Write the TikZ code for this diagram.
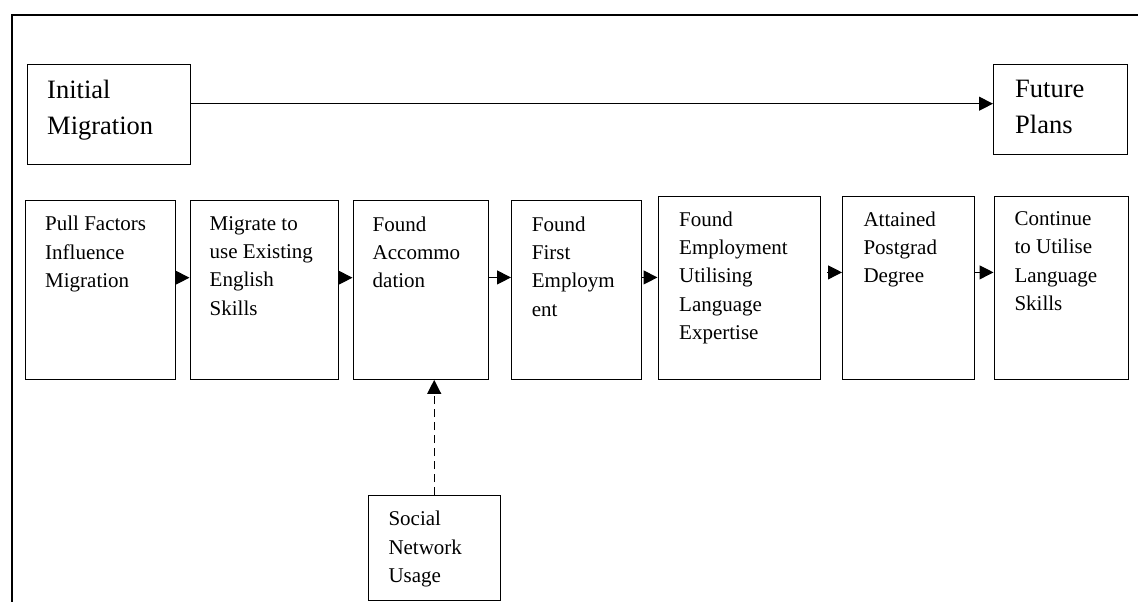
\documentclass[tikz,border=0pt]{standalone}
\usepackage{fontspec}
\setmainfont{Liberation Serif}
\usetikzlibrary{arrows.meta,positioning,calc}

\begin{document}
\begin{tikzpicture}[x=1pt,y=-1pt,
    stage/.style={draw, line width=1.4pt, anchor=north west, inner sep=0pt},
    txt/.style={anchor=north west, align=left, inner sep=0pt, execute at begin node=\strut, font=\fontsize{21}{28.3}\selectfont},
    bigtxt/.style={anchor=north west, align=left, inner sep=0pt, execute at begin node=\strut, font=\fontsize{26.5}{36}\selectfont},
    flow/.style={-{Triangle[length=14pt,width=14pt]}, line width=1.1pt}]
    \useasboundingbox (0,0) rectangle (1138,602);
    % frame
    \draw[line width=1.3pt] (12,602) -- (12,15) -- (1138,15);
    % start and end
    \node[stage, minimum width=163, minimum height=100] (init) at (27,64) {};
    \node[bigtxt] (inittxt) at ([shift={(20,16.3)}]init.north west) {Initial\\Migration};
    \node[stage, minimum width=134, minimum height=90] (fut) at (993,64) {};
    \node[bigtxt] (futtxt) at ([shift={(22,16)}]fut.north west) {Future\\Plans};
    \draw[flow] ([yshift=11pt]init.east) -- ([yshift=11pt]init.east -| fut.west);
    % stages
    \node[stage, minimum width=150, minimum height=179] (pull) at (25,199.5) {};
    \node[txt] (pulltxt) at ([shift={(20,16.7)}]pull.north west) {Pull Factors\\Influence\\Migration};
    \node[stage, minimum width=148.5, minimum height=179] (migr) at (189.5,199.5) {};
    \node[txt] (migrtxt) at ([shift={(20,16.7)}]migr.north west) {Migrate to\\use Existing\\English\\Skills};
    \node[stage, minimum width=135.5, minimum height=178.5] (accom) at (352.5,200) {};
    \node[txt] (accomtxt) at ([shift={(20,16.4)}]accom.north west) {Found\\Accommo\\dation};
    \node[stage, minimum width=130, minimum height=178.5] (job) at (511,200) {};
    \node[txt] (jobtxt) at ([shift={(20.7,16.4)}]job.north west) {Found\\First\\Employm\\ent};
    \node[stage, minimum width=162.5, minimum height=183] (lang) at (657.5,195.5) {};
    \node[txt] (langtxt) at ([shift={(21.5,15.9)}]lang.north west) {Found\\Employment\\Utilising\\Language\\Expertise};
    \node[stage, minimum width=132, minimum height=183] (degree) at (842,195.5) {};
    \node[txt] (degreetxt) at ([shift={(21.3,15.9)}]degree.north west) {Attained\\Postgrad\\Degree};
    \node[stage, minimum width=134, minimum height=183] (cont) at (993.5,195.5) {};
    \node[txt] (conttxt) at ([shift={(20.8,15.9)}]cont.north west) {Continue\\to Utilise\\Language\\Skills};
    % links
    \draw[flow] ([yshift=12pt]pull.east) -- ([yshift=12pt]pull.east -| migr.west);
    \draw[flow] ([yshift=12pt]migr.east) -- ([yshift=12pt]migr.east -| accom.west);
    \draw[flow] ([yshift=12.5pt]accom.east) -- ([yshift=12.5pt]accom.east -| job.west);
    \draw[flow] ([yshift=12.5pt]job.east) -- ([yshift=12.5pt]job.east -| lang.west);
    \draw[flow] ([shift={(6,-15.3)}]lang.east) -- ([yshift=15.3pt]lang.east -| degree.west);
    \draw[flow] ([yshift=15.3pt]degree.east) -- ([yshift=15.3pt]degree.east -| cont.west);
    % social network
    \node[stage, minimum width=132, minimum height=104.5] (social) at (367.5,495) {};
    \node[txt] (socialtxt) at ([shift={(20.8,16)}]social.north west) {Social\\Network\\Usage};
    \draw[flow, dash pattern=on 8pt off 5pt] (social.north) -- (social.north |- accom.south);
\end{tikzpicture}
\end{document}
